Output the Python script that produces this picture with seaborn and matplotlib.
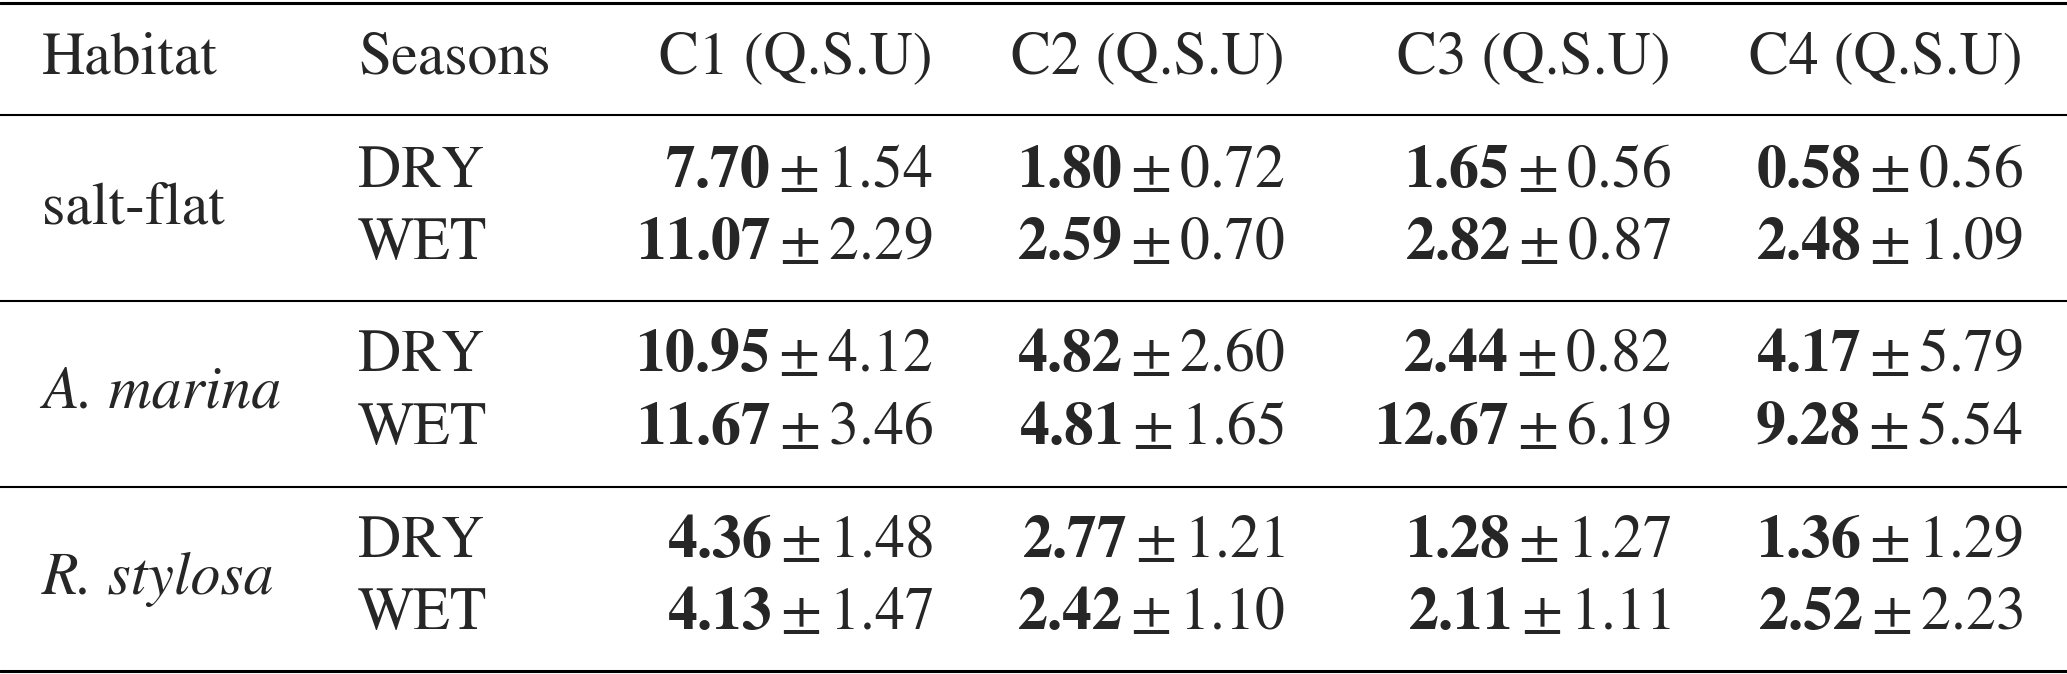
import pandas as pd
import matplotlib.pyplot as plt
import seaborn as sns

# Datos de la tabla
habitats = ['salt-flat', 'A. marina', 'R. stylosa']
habitat_italic = [False, True, True]
seasons = ['DRY', 'WET']
columns = ['C1 (Q.S.U)', 'C2 (Q.S.U)', 'C3 (Q.S.U)', 'C4 (Q.S.U)']

c1_mean = [7.70, 11.07, 10.95, 11.67, 4.36, 4.13]
c1_sd = [1.54, 2.29, 4.12, 3.46, 1.48, 1.47]
c2_mean = [1.80, 2.59, 4.82, 4.81, 2.77, 2.42]
c2_sd = [0.72, 0.70, 2.60, 1.65, 1.21, 1.10]
c3_mean = [1.65, 2.82, 2.44, 12.67, 1.28, 2.11]
c3_sd = [0.56, 0.87, 0.82, 6.19, 1.27, 1.11]
c4_mean = [0.58, 2.48, 4.17, 9.28, 1.36, 2.52]
c4_sd = [0.56, 1.09, 5.79, 5.54, 1.29, 2.23]

df = pd.DataFrame({
    'habitat': [h for h in habitats for _ in seasons],
    'season': seasons * len(habitats),
    'c1_mean': c1_mean, 'c1_sd': c1_sd,
    'c2_mean': c2_mean, 'c2_sd': c2_sd,
    'c3_mean': c3_mean, 'c3_sd': c3_sd,
    'c4_mean': c4_mean, 'c4_sd': c4_sd,
})

sns.set_theme(style='white')
plt.rcParams['font.family'] = ['STIXGeneral', 'DejaVu Serif']
plt.rcParams['mathtext.fontset'] = 'stix'

W, H = 2067, 674
fig = plt.figure(figsize=(W / 100, H / 100), dpi=100)
ax = fig.add_axes([0, 0, 1, 1])
ax.set_xlim(0, W)
ax.set_ylim(H, 0)
ax.axis('off')

fs = 43

# layout en pixeles (baselines)
x_hab = 42
x_season = 358
x_cols = [933, 1285, 1671, 2023]
y_head = 73
y_rows = [187, 259, 371, 444, 557, 629]
y_hab = [223, 408, 594]
y_rules = [2.5, 115, 301, 487, 671]
rule_w = [2.2, 1.5, 1.5, 1.5, 2.2]

for y, lw in zip(y_rules, rule_w):
    ax.axhline(y, color='black', lw=lw)

ax.text(x_hab, y_head, 'Habitat', fontsize=fs, va='baseline', ha='left')
ax.text(x_season, y_head, 'Seasons', fontsize=fs, va='baseline', ha='left')
for x, c in zip(x_cols, columns):
    ax.text(x, y_head, c, fontsize=fs, va='baseline', ha='right')

for h, it, y in zip(habitats, habitat_italic, y_hab):
    ax.text(x_hab, y, h, fontsize=fs, va='baseline', ha='left',
            fontstyle='italic' if it else 'normal')

for r, row in df.iterrows():
    y = y_rows[r]
    ax.text(x_season, y, row['season'], fontsize=fs, va='baseline', ha='left')
    for k, x in enumerate(x_cols, start=1):
        m = row[f'c{k}_mean']
        s = row[f'c{k}_sd']
        ax.text(x, y, rf'$\mathbf{{{m:.2f}}}\pm{s:.2f}$', fontsize=fs,
                va='baseline', ha='right')

plt.savefig('out.png', dpi=100)
